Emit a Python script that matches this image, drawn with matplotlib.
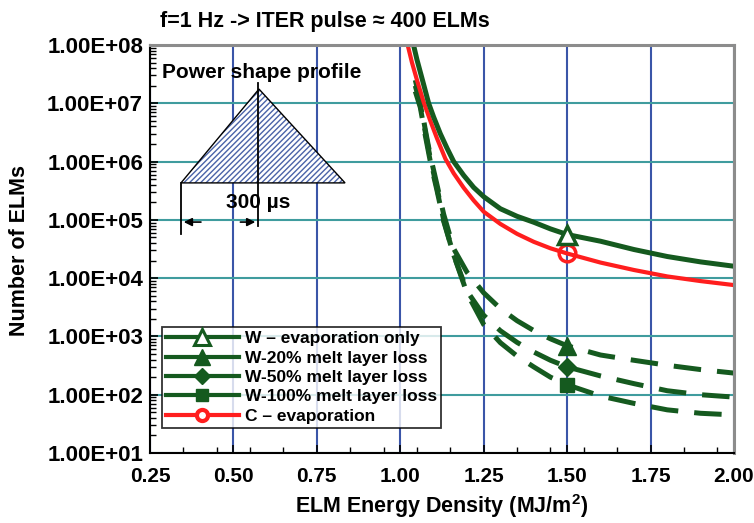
import numpy as np
import matplotlib
matplotlib.use("Agg")
import matplotlib.pyplot as plt
from matplotlib.lines import Line2D
from matplotlib.patches import Polygon
from matplotlib.ticker import FixedLocator, LogLocator, NullFormatter

plt.rcParams['font.family'] = ['Liberation Sans', 'DejaVu Sans']
plt.rcParams['font.weight'] = 'bold'
plt.rcParams['mathtext.fontset'] = 'custom'
plt.rcParams['mathtext.rm'] = 'Liberation Sans:bold'
plt.rcParams['mathtext.bf'] = 'Liberation Sans:bold'
plt.rcParams['mathtext.default'] = 'bf'

# ---------------- data ----------------
e_w_evap = [1.035, 1.05, 1.07, 1.085, 1.10, 1.12, 1.14, 1.16, 1.19, 1.22, 1.25,
            1.30, 1.35, 1.40, 1.45, 1.50, 1.60, 1.70, 1.80, 1.90, 2.00]
n_w_evap = [1.3e8, 5.6e7, 2.1e7, 1.0e7, 5.8e6, 3.0e6, 1.7e6, 1.0e6, 5.8e5, 3.6e5, 2.5e5,
            1.55e5, 1.15e5, 9.1e4, 7.0e4, 5.6e4, 4.3e4, 3.1e4, 2.35e4, 1.9e4, 1.6e4]

e_c_evap = [1.02, 1.035, 1.05, 1.07, 1.09, 1.11, 1.135, 1.16, 1.19, 1.22, 1.25,
            1.30, 1.35, 1.40, 1.45, 1.50, 1.60, 1.70, 1.80, 1.90, 2.00]
n_c_evap = [1.12e8, 5.0e7, 2.5e7, 1.05e7, 5.0e6, 2.5e6, 1.12e6, 6.3e5, 3.55e5, 2.15e5, 1.38e5,
            8.5e4, 5.75e4, 4.2e4, 3.25e4, 2.65e4, 1.85e4, 1.38e4, 1.07e4, 8.9e3, 7.6e3]

e_w_melt = [1.045, 1.06, 1.075, 1.09, 1.11, 1.13, 1.16, 1.20, 1.25, 1.30, 1.35,
            1.40, 1.45, 1.50, 1.60, 1.70, 1.80, 1.90, 2.00]
n_w_20 = [2.5e7, 1.1e7, 3.5e6, 1.25e6, 4.0e5, 1.25e5, 3.2e4, 1.26e4, 5.6e3, 3.0e3, 1.86e3,
          1.26e3, 9.1e2, 6.9e2, 4.8e2, 3.9e2, 3.2e2, 2.7e2, 2.35e2]
n_w_50 = [2.0e7, 9.5e6, 3.2e6, 1.12e6, 3.5e5, 1.0e5, 2.5e4, 6.0e3, 2.3e3, 1.25e3, 7.9e2,
          5.4e2, 3.9e2, 3.0e2, 2.1e2, 1.55e2, 1.17e2, 1.0e2, 9.1e1]
n_w_100 = [1.6e7, 8.5e6, 2.8e6, 1.0e6, 3.2e5, 9.5e4, 2.5e4, 5.5e3, 1.6e3, 7.8e2, 4.6e2,
           3.0e2, 2.0e2, 1.48e2, 9.5e1, 7.1e1, 5.5e1, 4.8e1, 4.5e1]

marker_energy = 1.50

legend_labels = ["W \u2013 evaporation only", "W-20% melt layer loss",
                 "W-50% melt layer loss", "W-100% melt layer loss",
                 "C \u2013 evaporation"]

x_ticks = [0.25, 0.50, 0.75, 1.00, 1.25, 1.50, 1.75, 2.00]
x_tick_labels = ["0.25", "0.50", "0.75", "1.00", "1.25", "1.50", "1.75", "2.00"]
y_ticks = [1e1, 1e2, 1e3, 1e4, 1e5, 1e6, 1e7, 1e8]
y_tick_labels = ["1.00E+01", "1.00E+02", "1.00E+03", "1.00E+04",
                 "1.00E+05", "1.00E+06", "1.00E+07", "1.00E+08"]

title_text = "f=1 Hz -> ITER pulse \u2248 400 ELMs"
x_label = "ELM Energy Density (MJ/m$^{2}$)"
y_label = "Number of ELMs"

# ---------------- styles ----------------
GREEN = "#155a1f"
RED = "#ff1e1e"
VGRID = "#3a55a8"
HGRID = "#3f9c9e"
FS_YTICK = 16
FS_XTICK = 15
FS_LAB = 15.5
FS_LEG = 12.5

fig = plt.figure(figsize=(7.54, 5.23), dpi=100)
ax = fig.add_axes([150 / 754, 70 / 523, 584 / 754, 408 / 523])
ax.set_yscale('log')
ax.set_xlim(0.25, 2.0)
ax.set_ylim(1e1, 1e8)

ax.xaxis.grid(True, color=VGRID, lw=1.5)
ax.yaxis.grid(True, color=HGRID, lw=1.5, which='major')
ax.set_axisbelow(True)

dash = (5.5, 3.2)
LW = 3.6


def idx(arr, val):
    return [int(np.argmin(np.abs(np.array(arr) - val)))]


ax.plot(e_w_melt, n_w_20, color=GREEN, lw=LW, dashes=dash, marker='^', ms=13,
        markevery=idx(e_w_melt, marker_energy), mfc=GREEN, mec=GREEN)
ax.plot(e_w_melt, n_w_50, color=GREEN, lw=LW, dashes=dash, marker='D', ms=9,
        markevery=idx(e_w_melt, marker_energy), mfc=GREEN, mec=GREEN)
ax.plot(e_w_melt, n_w_100, color=GREEN, lw=LW, dashes=dash, marker='s', ms=10,
        markevery=idx(e_w_melt, marker_energy), mfc=GREEN, mec=GREEN)
ax.plot(e_c_evap, n_c_evap, color=RED, lw=3.0, marker='o', ms=12,
        markevery=idx(e_c_evap, marker_energy), mfc='none', mec=RED, mew=2.5)
ax.plot(e_w_evap, n_w_evap, color=GREEN, lw=LW, marker='^', ms=13,
        markevery=idx(e_w_evap, marker_energy), mfc='white', mec=GREEN, mew=2.5)

# ticks
ax.xaxis.set_major_locator(FixedLocator(x_ticks))
ax.set_xticklabels(x_tick_labels, fontsize=FS_XTICK, fontweight='bold')
ax.xaxis.set_minor_locator(FixedLocator(np.arange(0.35, 2.0, 0.1)))
ax.yaxis.set_major_locator(FixedLocator(y_ticks))
ax.set_yticklabels(y_tick_labels, fontsize=FS_YTICK, fontweight='bold')
ax.yaxis.set_minor_locator(LogLocator(base=10, subs=np.arange(2, 10)))
ax.yaxis.set_minor_formatter(NullFormatter())
ax.tick_params(axis='both', which='major', direction='in', length=6, width=1.2,
               top=False, right=False)
ax.tick_params(axis='x', which='major', pad=10)
ax.tick_params(axis='y', which='major', pad=5)
ax.tick_params(axis='both', which='minor', direction='in', length=4, width=1.0,
               top=False, right=False)

for s in ['left', 'bottom']:
    ax.spines[s].set_color('black')
    ax.spines[s].set_linewidth(1.5)
for s in ['top', 'right']:
    ax.spines[s].set_color('#8c8c8c')
    ax.spines[s].set_linewidth(2.2)

# labels
fig.text(160 / 754, 1 - 22 / 523, title_text, fontsize=FS_LAB, fontweight='bold',
         ha='left', va='center')
fig.text(442 / 754, 1 - 506 / 523, x_label, fontsize=FS_LAB,
         fontweight='bold', ha='center', va='center')
fig.text(20 / 754, 1 - 250 / 523, y_label, fontsize=FS_LAB, fontweight='bold',
         ha='center', va='center', rotation=90)

# inset: power shape profile (axes-fraction coordinates)
tr = ax.transAxes
tri_pts = [[0.0531, 0.662], [0.1866, 0.892], [0.334, 0.662]]
tri = Polygon(tri_pts, closed=True, transform=tr, facecolor='white',
              edgecolor='#4a63a8', hatch='//////', lw=0, zorder=5)
ax.add_patch(tri)
tri_o = Polygon(tri_pts, closed=True, transform=tr, facecolor='none',
                edgecolor='black', lw=1.0, zorder=6)
ax.add_patch(tri_o)
ax.plot([0.185, 0.185], [0.907, 0.557], color='black', lw=1.3, transform=tr, zorder=6)
ax.plot([0.0531, 0.0531], [0.662, 0.537], color='black', lw=1.3, transform=tr, zorder=6)
ax.annotate('', xy=(0.0531, 0.566), xytext=(0.092, 0.566), xycoords=tr, textcoords=tr,
            arrowprops=dict(arrowstyle='-|>', color='black', lw=1.2, mutation_scale=12),
            zorder=6)
ax.annotate('', xy=(0.185, 0.566), xytext=(0.150, 0.566), xycoords=tr, textcoords=tr,
            arrowprops=dict(arrowstyle='-|>', color='black', lw=1.2, mutation_scale=12),
            zorder=6)
ax.text(0.185, 0.613, "300 \u00b5s", transform=tr, fontsize=15, fontweight='bold',
        ha='center', va='center', zorder=7)
ax.text(0.0205, 0.92, "Power shape profile", transform=tr, fontsize=15,
        fontweight='bold', ha='left', va='baseline', zorder=7)

# legend
handles = [
    Line2D([], [], color=GREEN, lw=3, marker='^', ms=11, mfc='white', mec=GREEN, mew=2.2),
    Line2D([], [], color=GREEN, lw=3, marker='^', ms=11, mfc=GREEN, mec=GREEN),
    Line2D([], [], color=GREEN, lw=3, marker='D', ms=8, mfc=GREEN, mec=GREEN),
    Line2D([], [], color=GREEN, lw=3, marker='s', ms=9, mfc=GREEN, mec=GREEN),
    Line2D([], [], color=RED, lw=3, marker='o', ms=8, mfc='white', mec=RED, mew=3),
]
leg = ax.legend(handles, legend_labels, loc='lower left', bbox_to_anchor=(0.02, 0.061),
                borderaxespad=0, frameon=True, fancybox=False,
                handlelength=4.2, handletextpad=0.35, labelspacing=0.24,
                borderpad=0.25, prop={'weight': 'bold', 'size': FS_LEG})
leg.get_frame().set_edgecolor('black')
leg.get_frame().set_linewidth(1.3)
leg.set_zorder(8)

fig.savefig("out.png", dpi=100)
